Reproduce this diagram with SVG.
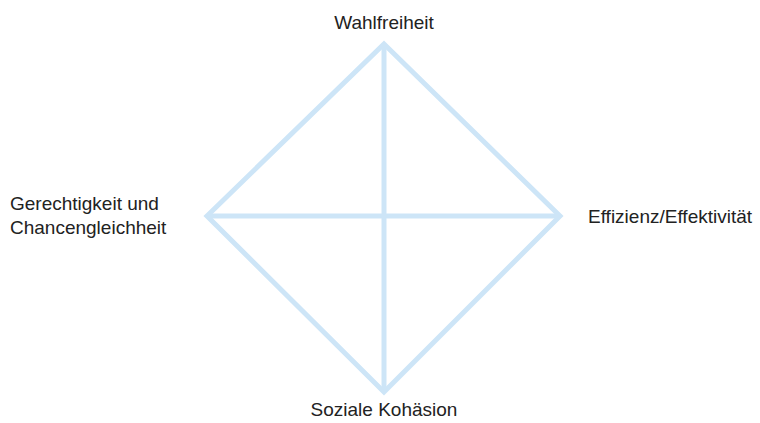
<svg xmlns="http://www.w3.org/2000/svg" width="760" height="423" viewBox="0 0 760 423">
<style>
.t{font-family:"Liberation Sans",Arial,sans-serif;font-size:19px;fill:#222}
.l{stroke:#cde5f7;stroke-width:5;fill:none;stroke-linejoin:miter}
</style>
<rect width="760" height="423" fill="#fff"/>
<g id="connectors">
<polygon class="l" points="384,44 560,216 384,392 207,216"/>
<line class="l" x1="384" y1="44" x2="384" y2="392"/>
<line class="l" x1="207" y1="216" x2="560" y2="216"/>
</g>
<g id="n-top"><text class="t" x="384" y="29" text-anchor="middle">Wahlfreiheit</text></g>
<g id="n-right"><text class="t" x="588" y="223">Effizienz/Effektivität</text></g>
<g id="n-bottom"><text class="t" x="384" y="416" text-anchor="middle">Soziale Kohäsion</text></g>
<g id="n-left"><text class="t" x="10" y="210">Gerechtigkeit und</text><text class="t" x="10" y="234">Chancengleichheit</text></g>
</svg>
